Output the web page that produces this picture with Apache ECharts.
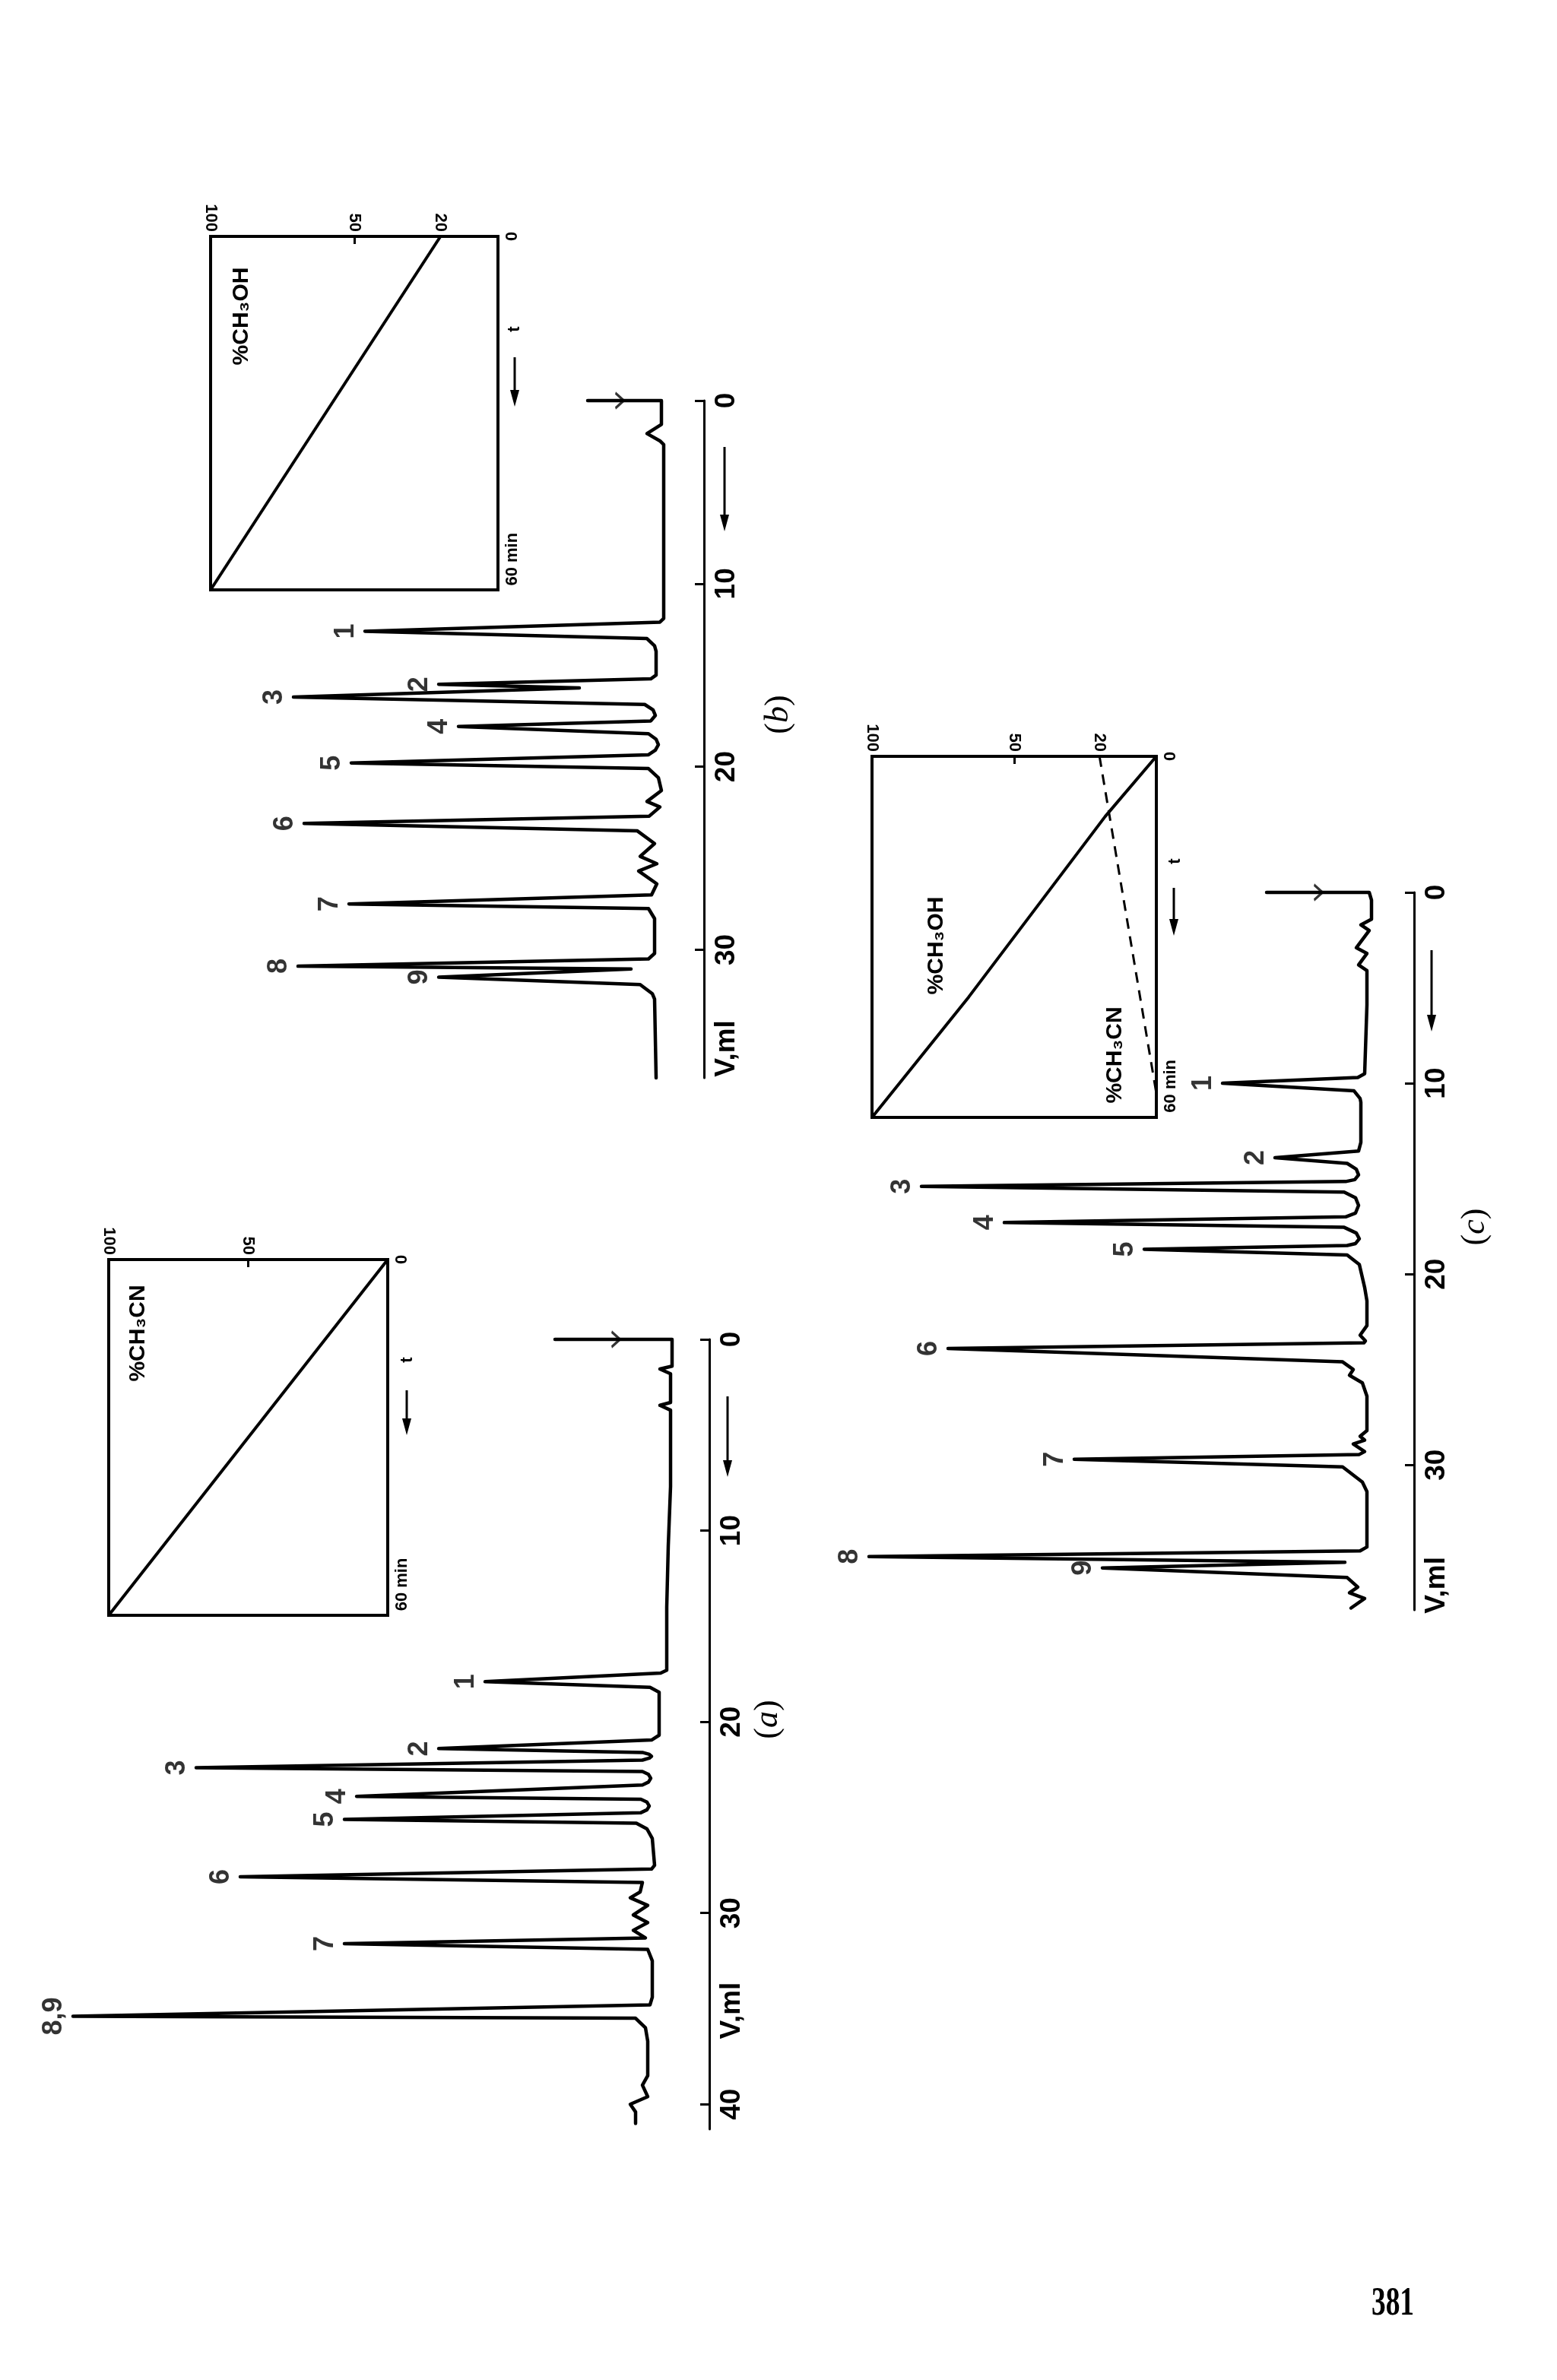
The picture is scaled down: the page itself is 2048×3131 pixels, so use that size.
<!DOCTYPE html>
<html><head><meta charset="utf-8">
<script src="https://cdn.jsdelivr.net/npm/echarts@6/dist/echarts.min.js"></script>
<style>html,body{margin:0;padding:0;background:#fff}#c{width:2048px;height:3131px}</style>
</head><body><div id="c"></div>
<script>
// ---------- DATA (V = eluted volume, ml ; S = detector signal, arbitrary units) ----------
// Chromatogram (a) trace points [V, S]
const traceA = [[0,20.3],[0,4.9],[1.4,4.9],[1.55,6.5],[1.8,5.1],[3.3,5.1],[3.45,6.5],[3.7,5.1],[7.7,5.1],[10.8,5.4],[14.0,5.6],[17.3,5.6],[17.45,6.4],[17.9,29.5],[18.2,7.8],[18.45,6.6],[20.7,6.6],[20.95,7.6],[21.4,35.6],[21.6,8.8],[21.7,7.9],[21.8,7.6],[21.9,7.9],[22.0,8.8],[22.4,67.5],[22.6,8.8],[22.75,8.0],[22.95,7.7],[23.15,8.0],[23.3,8.8],[23.9,46.4],[24.05,9.0],[24.2,8.2],[24.4,7.9],[24.6,8.2],[24.75,9.0],[25.1,48.0],[25.3,9.6],[25.6,8.2],[26.1,7.5],[27.5,7.2],[27.7,7.6],[28.1,61.7],[28.4,8.8],[28.9,9.1],[29.2,10.4],[29.6,8.1],[30.1,10.0],[30.5,8.1],[30.9,10.0],[31.3,8.4],[31.6,48.0],[31.9,8.1],[32.5,7.5],[34.4,7.5],[34.8,7.8],[35.4,83.7],[35.5,9.7],[36.0,8.4],[36.7,8.1],[38.5,8.1],[39.0,8.8],[39.6,8.1],[40.0,10.4],[40.4,9.7],[41.0,9.7]];
// Chromatogram (b)
const traceB = [[0,15.3],[0,5.6],[1.3,5.6],[1.8,7.5],[2.2,5.8],[2.4,5.3],[11.9,5.3],[12.1,5.8],[12.6,44.6],[13.0,7.5],[13.4,6.5],[13.7,6.3],[15.0,6.3],[15.2,7.0],[15.5,34.9],[15.7,16.4],[16.2,54.0],[16.6,7.8],[16.9,6.7],[17.2,6.4],[17.5,7.0],[17.8,32.3],[18.2,7.3],[18.5,6.3],[18.8,6.0],[19.1,6.4],[19.35,7.3],[19.8,46.4],[20.1,7.3],[20.6,6.0],[21.3,5.6],[21.9,7.5],[22.2,5.8],[22.7,7.2],[23.1,52.6],[23.5,8.8],[24.2,6.5],[24.9,8.4],[25.3,6.2],[25.7,8.6],[26.4,6.2],[27.0,6.9],[27.5,46.7],[27.75,7.3],[28.3,6.5],[30.2,6.5],[30.5,7.3],[30.9,53.4],[31.05,9.6],[31.5,34.9],[31.9,8.4],[32.4,6.8],[32.7,6.5],[37.0,6.3]];
// Chromatogram (c)
const traceC = [[0,19.4],[0,5.9],[0.4,5.6],[1.4,5.6],[1.7,7.0],[2.0,5.9],[2.9,7.6],[3.2,6.2],[3.8,7.3],[4.1,6.2],[5.9,6.2],[9.5,6.5],[9.7,7.4],[10.0,25.2],[10.4,7.9],[10.8,7.1],[11.0,7.0],[13.1,7.0],[13.55,7.3],[13.9,18.3],[14.2,8.8],[14.5,7.6],[14.8,7.3],[15.05,7.8],[15.15,9.0],[15.4,64.8],[15.7,9.2],[16.0,7.7],[16.4,7.3],[16.8,7.7],[17.0,9.0],[17.3,53.9],[17.55,9.2],[17.85,7.6],[18.15,7.2],[18.4,7.7],[18.5,8.8],[18.7,35.5],[19.0,8.8],[19.5,7.2],[20.7,6.5],[21.4,6.2],[22.7,6.2],[23.2,7.1],[23.5,6.4],[23.6,6.6],[23.9,61.3],[24.6,9.4],[25.0,8.0],[25.3,8.5],[25.7,6.8],[26.4,6.2],[28.2,6.2],[28.5,7.1],[28.7,6.5],[28.9,8.0],[29.3,6.5],[29.45,7.2],[29.7,44.7],[30.1,9.4],[30.9,6.8],[31.4,6.2],[34.3,6.2],[34.5,7.1],[34.8,71.7],[35.1,9.1],[35.4,41.0],[35.9,8.8],[36.4,7.4],[36.7,8.5],[37.0,6.5],[37.5,8.3]];

// Peak labels
const peakA_names = ['1','2','3','4','5','6','7','8,9'];
const peakA_V = [17.9,21.4,22.4,23.9,25.1,28.1,31.6,35.4];
const peakA_S = [29.5,35.6,67.5,46.4,48.0,61.7,48.0,83.7];
const peakB_names = ['1','2','3','4','5','6','7','8','9'];
const peakB_V = [12.6,15.5,16.2,17.8,19.8,23.1,27.5,30.9,31.5];
const peakB_S = [44.6,34.9,54.0,32.3,46.4,52.6,46.7,53.4,34.9];
const peakC_names = ['1','2','3','4','5','6','7','8','9'];
const peakC_V = [10.0,13.9,15.4,17.3,18.7,23.9,29.7,34.8,35.4];
const peakC_S = [25.2,18.3,64.8,53.9,35.5,61.3,44.7,71.7,41.0];

// Injection marks (arrow head on the start line), signal value at V = 0
const injA_S = 12.3, injB_S = 11.1, injC_S = 12.6;

// Volume axis ticks
const vTicksA = [0,10,20,30,40];
const vTicksBC = [0,10,20,30];

// Gradient insets: time (min) and percent
const gradA_t = [0,60],        gradA_CH3CN = [0,100];
const gradB_t = [0,60],        gradB_CH3OH = [20,100];
const gradC_t = [0,10,40,60],  gradC_CH3OH = [0,18,66,100];
const gradC2_t = [0,56],       gradC_CH3CN = [20,0];
const pctLabelsA = [100,50];
const pctLabelsBC = [100,50,20];

// ---------- CHART ----------
const SANS = '"Liberation Sans", Arial, sans-serif';
const chart = echarts.init(document.getElementById('c'), null, {renderer:'canvas'});

const chroms = [
  {trace:traceA, names:peakA_names, V:peakA_V, S:peakA_S, inj:injA_S, ticks:vTicksA, vmax:41.3, vml:35.1, left:33, top:1762, height:1039},
  {trace:traceB, names:peakB_names, V:peakB_V, S:peakB_S, inj:injB_S, ticks:vTicksBC, vmax:37.0, vml:35.4, left:26, top:527, height:891},
  {trace:traceC, names:peakC_names, V:peakC_V, S:peakC_S, inj:injC_S, ticks:vTicksBC, vmax:37.6, vml:36.3, left:960, top:1174, height:944}
];
const insets = [
  {left:143, top:1657, width:367, height:468, labels:pctLabelsA, lines:[{t:gradA_t, p:gradA_CH3CN, dash:false}]},
  {left:277, top:311, width:378, height:465, labels:pctLabelsBC, lines:[{t:gradB_t, p:gradB_CH3OH, dash:false}]},
  {left:1147, top:995, width:374, height:475, labels:pctLabelsBC, lines:[{t:gradC_t, p:gradC_CH3OH, dash:false},{t:gradC2_t, p:gradC_CH3CN, dash:true}]}
];

const grids = [], xAxes = [], yAxes = [], series = [];
chroms.forEach((c, i) => {
  grids.push({left:c.left, top:c.top, width:900, height:c.height, show:false, outerBoundsMode:'none', containLabel:false});
  xAxes.push({gridIndex:i, type:'value', min:0, max:90, inverse:true, show:false});
  yAxes.push({gridIndex:i, type:'value', min:0, max:c.vmax, inverse:true, position:'right',
    axisLine:{show:true, onZero:false, lineStyle:{color:'#000', width:3}},
    axisTick:{show:true, inside:true, length:12, customValues:c.ticks, lineStyle:{color:'#000', width:3}},
    axisLabel:{show:true, customValues:c.ticks.concat([c.vml]), rotate:90, margin:11, color:'#000',
      fontSize:37, fontFamily:SANS, fontWeight:'bold', showMinLabel:true, showMaxLabel:true,
      formatter: v => Math.abs(v - c.vml) < 0.01 ? 'V,ml' : String(v)},
    splitLine:{show:false}});
  series.push({type:'line', xAxisIndex:i, yAxisIndex:i, data:c.trace.map(p => [p[1], p[0]]),
    showSymbol:false, symbol:'none', clip:false, silent:true,
    lineStyle:{color:'#000', width:4.5, join:'round', cap:'round'}});
  series.push({type:'scatter', xAxisIndex:i, yAxisIndex:i, silent:true, clip:false,
    data:c.names.map((n,k) => ({name:n, value:[c.S[k], c.V[k]]})),
    symbolSize:1, itemStyle:{color:'rgba(0,0,0,0)'},
    label:{show:true, position:'left', distance:24, rotate:90, align:'center', verticalAlign:'middle',
      formatter:'{b}', fontSize:36, fontWeight:'bold', fontFamily:SANS, color:'#000'}});
  series.push({type:'scatter', xAxisIndex:i, yAxisIndex:i, silent:true, clip:false,
    data:[[c.inj, 0]], symbol:'path://M0,0L10,10L0,20', symbolSize:[11,20],
    itemStyle:{color:'rgba(0,0,0,0)', borderColor:'#000', borderWidth:3}});
});
insets.forEach((g, j) => {
  const gi = 3 + j;
  grids.push({left:g.left, top:g.top, width:g.width, height:g.height, show:true, borderColor:'#000', borderWidth:4, backgroundColor:'transparent', outerBoundsMode:'none', containLabel:false});
  xAxes.push({gridIndex:gi, type:'value', min:0, max:100, inverse:true, position:'top',
    axisLine:{show:true, onZero:false, lineStyle:{color:'#000', width:4}},
    axisTick:{show:true, inside:true, length:10, customValues:[50], lineStyle:{color:'#000', width:3}},
    axisLabel:{customValues:g.labels, rotate:90, margin:6, fontSize:22, fontWeight:'bold', fontFamily:SANS, color:'#000', showMinLabel:true, showMaxLabel:true},
    splitLine:{show:false}});
  yAxes.push({gridIndex:gi, type:'value', min:0, max:60, inverse:true, position:'right',
    axisLine:{show:true, onZero:false, lineStyle:{color:'#000', width:4}},
    axisTick:{show:false},
    axisLabel:{customValues:[0, 54.8], rotate:90, margin:8, fontSize:22, fontWeight:'bold', fontFamily:SANS, color:'#000', showMinLabel:true, showMaxLabel:true,
      formatter: v => v === 0 ? '0' : '60 min'},
    splitLine:{show:false}});
  g.lines.forEach(l => {
    series.push({type:'line', xAxisIndex:gi, yAxisIndex:gi, data:l.t.map((t,k) => [l.p[k], t]),
      showSymbol:false, symbol:'none', clip:false, silent:true,
      lineStyle:{color:'#000', width:l.dash ? 3 : 4, type:l.dash ? [14,10] : 'solid'}});
  });
});

// annotation helpers
function rtext(text, x, y, size, extra) {
  return Object.assign({type:'text', x:x, y:y, rotation:Math.PI/2, silent:true,
    style:{text:text, fontSize:size, fontWeight:'bold', fontFamily:SANS, fill:'#000', align:'center', verticalAlign:'middle'}}, extra || {});
}
function downArrow(x, y1, y2, w) {
  return {type:'group', silent:true, children:[
    {type:'line', shape:{x1:x, y1:y1, x2:x, y2:y2-8}, style:{stroke:'#000', lineWidth:w}},
    {type:'polygon', shape:{points:[[x-6,y2-22],[x,y2],[x+6,y2-22]]}, style:{fill:'#000'}}
  ]};
}
function paren(letter, x, y) {
  return {type:'text', x:x, y:y, rotation:Math.PI/2, silent:true,
    style:{text:'{p|(}{i|' + letter + '}{p|)}', align:'center', verticalAlign:'middle',
      rich:{p:{fontSize:44, fontFamily:'"Liberation Serif", serif', fill:'#000'},
            i:{fontSize:44, fontFamily:'"Liberation Serif", serif', fontStyle:'italic', fill:'#000'}}}};
}

const graphic = [
  rtext('%CH₃CN', 182, 1754, 30),
  rtext('t', 536, 1789, 22),
  downArrow(535, 1829, 1888, 3),
  rtext('%CH₃OH', 318, 416, 30),
  rtext('t', 677, 433, 22),
  downArrow(677, 470, 535, 3),
  rtext('%CH₃OH', 1232, 1244, 30),
  rtext('%CH₃CN', 1467, 1388, 30),
  rtext('t', 1546, 1133, 22),
  downArrow(1544, 1168, 1231, 3),
  downArrow(957, 1837, 1943, 3),
  downArrow(953, 588, 699, 3),
  downArrow(1883, 1250, 1357, 3),
  paren('a', 1010, 2262),
  paren('b', 1024, 940),
  paren('c', 1940, 1614),
  {type:'text', x:1832, y:3032, scaleX:0.72, silent:true,
    style:{text:'381', fontSize:52, fontWeight:'bold', fontFamily:'"Liberation Serif", serif', fill:'#000', align:'center', verticalAlign:'middle'}}
];

chart.setOption({
  animation:false,
  backgroundColor:'#fff',
  grid:grids, xAxis:xAxes, yAxis:yAxes, series:series, graphic:graphic
});
</script>
</body></html>
